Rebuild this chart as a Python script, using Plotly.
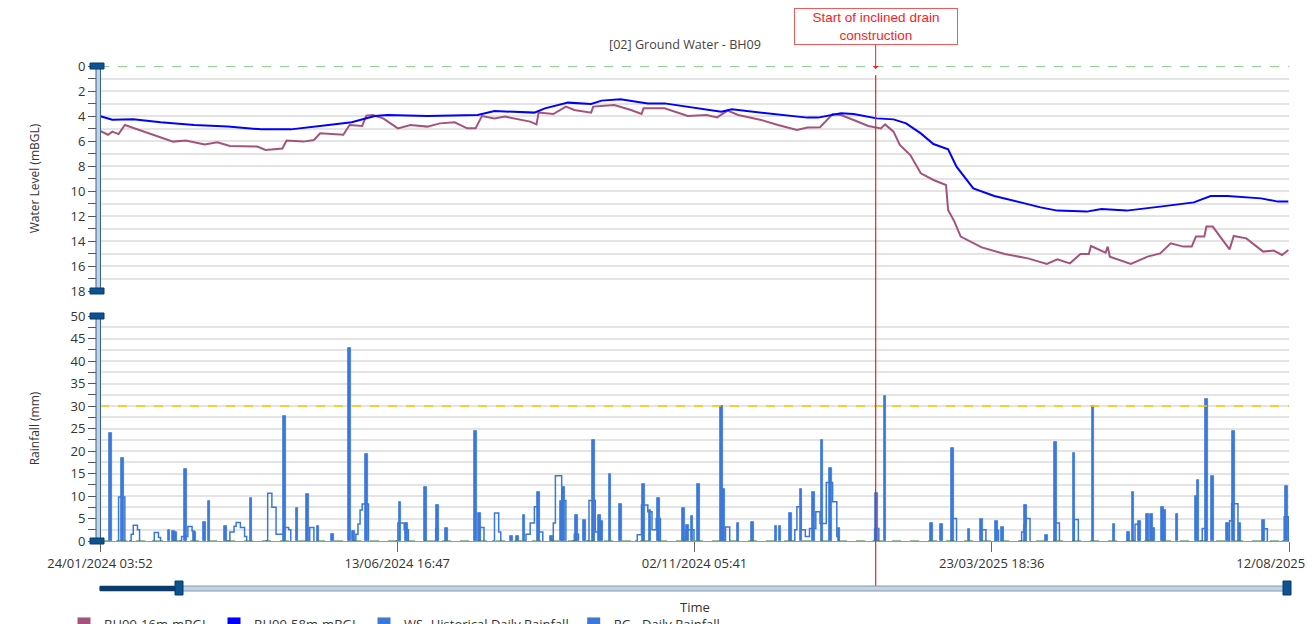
import plotly.graph_objects as go
from plotly.subplots import make_subplots

# ---------------- data ----------------
gw16_dates = ["2024-01-24", "2024-01-28", "2024-01-30", "2024-02-02", "2024-02-05", "2024-02-11", "2024-02-19",
              "2024-02-28", "2024-03-05", "2024-03-14", "2024-03-20", "2024-03-26", "2024-04-08", "2024-04-12",
              "2024-04-20", "2024-04-22", "2024-04-30", "2024-05-05", "2024-05-08", "2024-05-19", "2024-05-22",
              "2024-05-28", "2024-05-30", "2024-06-02", "2024-06-07", "2024-06-14", "2024-06-20", "2024-06-28",
              "2024-07-04", "2024-07-11", "2024-07-17", "2024-07-21", "2024-07-24", "2024-07-30", "2024-08-04",
              "2024-08-16", "2024-08-19", "2024-08-20", "2024-08-27", "2024-09-02", "2024-09-06", "2024-09-14",
              "2024-09-15", "2024-09-25", "2024-10-03", "2024-10-08", "2024-10-09", "2024-10-19", "2024-10-30",
              "2024-11-08", "2024-11-13", "2024-11-18", "2024-11-23", "2024-12-04", "2024-12-12", "2024-12-21",
              "2024-12-26", "2025-01-01", "2025-01-07", "2025-01-11", "2025-01-17", "2025-01-24", "2025-01-30",
              "2025-02-01", "2025-02-05", "2025-02-08", "2025-02-13", "2025-02-18", "2025-02-24", "2025-03-02",
              "2025-03-03", "2025-03-06", "2025-03-09", "2025-03-19", "2025-03-30", "2025-04-10", "2025-04-19",
              "2025-04-24", "2025-04-30", "2025-05-05", "2025-05-09", "2025-05-10", "2025-05-17", "2025-05-18",
              "2025-05-19", "2025-05-29", "2025-06-06", "2025-06-12", "2025-06-17", "2025-06-23", "2025-06-27",
              "2025-06-29", "2025-07-03", "2025-07-04", "2025-07-07", "2025-07-15", "2025-07-17", "2025-07-23",
              "2025-07-31", "2025-08-05", "2025-08-09", "2025-08-12"]
gw16_values = [5.17, 5.5, 5.25, 5.45, 4.72, 5.07, 5.5,
               6.05, 5.97, 6.27, 6.1, 6.4, 6.45, 6.72,
               6.6, 5.97, 6.05, 5.92, 5.39, 5.5, 4.72,
               4.8, 3.97, 3.92, 4.19, 4.99, 4.72, 4.85,
               4.59, 4.5, 4.99, 4.99, 4.0, 4.19, 4.05,
               4.45, 4.67, 3.73, 3.84, 3.25, 3.52, 3.73,
               3.25, 3.12, 3.52, 3.84, 3.39, 3.39, 4.0,
               3.92, 4.11, 3.57, 3.92, 4.32, 4.72, 5.12,
               4.93, 4.91, 3.84, 3.92, 4.32, 4.8, 4.99,
               4.67, 5.25, 6.32, 7.12, 8.59, 9.12, 9.52,
               11.52, 12.45, 13.65, 14.51, 15.04, 15.39, 15.84,
               15.47, 15.79, 15.04, 15.04, 14.4, 14.93, 14.45,
               15.25, 15.84, 15.25, 14.99, 14.19, 14.45, 14.45,
               13.65, 13.65, 12.85, 12.85, 14.67, 13.6, 13.79,
               14.85, 14.77, 15.12, 14.72]

gw58_dates = ["2024-01-24", "2024-01-30", "2024-02-09", "2024-02-22", "2024-03-09", "2024-03-25", "2024-04-10",
              "2024-04-24", "2024-05-12", "2024-05-23", "2024-06-03", "2024-06-09", "2024-06-28", "2024-07-14",
              "2024-07-22", "2024-07-30", "2024-08-18", "2024-08-23", "2024-09-03", "2024-09-14", "2024-09-19",
              "2024-09-28", "2024-10-11", "2024-10-19", "2024-11-02", "2024-11-15", "2024-11-20", "2024-12-04",
              "2024-12-26", "2024-12-31", "2025-01-11", "2025-01-17", "2025-01-28", "2025-02-05", "2025-02-11",
              "2025-02-18", "2025-02-24", "2025-03-03", "2025-03-07", "2025-03-15", "2025-03-25", "2025-04-07",
              "2025-04-16", "2025-04-24", "2025-05-08", "2025-05-15", "2025-05-27", "2025-06-12", "2025-06-28",
              "2025-07-06", "2025-07-14", "2025-07-30", "2025-08-07", "2025-08-12"]
gw58_values = [4.0, 4.3, 4.27, 4.5, 4.72, 4.85, 5.07,
               5.07, 4.72, 4.5, 4.0, 3.92, 4.0, 3.97,
               3.92, 3.6, 3.73, 3.39, 2.93, 3.04, 2.77,
               2.67, 2.99, 2.99, 3.31, 3.65, 3.47, 3.73,
               4.13, 4.13, 3.79, 3.84, 4.19, 4.27, 4.59,
               5.39, 6.24, 6.67, 8.05, 9.79, 10.4, 10.93,
               11.31, 11.57, 11.65, 11.44, 11.57, 11.25, 10.91,
               10.4, 10.4, 10.59, 10.85, 10.85]

# RG - Daily Rainfall (filled bars)
rg_dates = ["2024-01-29", "2024-02-04", "2024-02-26", "2024-02-28", "2024-02-29", "2024-03-05", "2024-03-09",
            "2024-03-14", "2024-03-16", "2024-03-24", "2024-04-05", "2024-04-21", "2024-04-27", "2024-05-02",
            "2024-05-07", "2024-05-14", "2024-05-22", "2024-05-24", "2024-05-30", "2024-06-15", "2024-06-18",
            "2024-06-27", "2024-07-03", "2024-07-07", "2024-07-21", "2024-07-23", "2024-08-07", "2024-08-10",
            "2024-08-13", "2024-08-20", "2024-08-26", "2024-08-31", "2024-09-01", "2024-09-07", "2024-09-11",
            "2024-09-15", "2024-09-18", "2024-09-19", "2024-09-23", "2024-09-28", "2024-10-09", "2024-10-12",
            "2024-10-16", "2024-10-28", "2024-10-30", "2024-11-01", "2024-11-04", "2024-11-15", "2024-11-16",
            "2024-11-23", "2024-11-30", "2024-12-11", "2024-12-13", "2024-12-18", "2024-12-23", "2024-12-29",
            "2025-01-02", "2025-01-06", "2025-01-10", "2025-01-28", "2025-02-01", "2025-02-23", "2025-02-28",
            "2025-03-05", "2025-03-13", "2025-03-19", "2025-03-26", "2025-03-29", "2025-04-09", "2025-04-19",
            "2025-04-23", "2025-05-02", "2025-05-11", "2025-05-21", "2025-05-28", "2025-05-30", "2025-06-02",
            "2025-06-06", "2025-06-08", "2025-06-09", "2025-06-13", "2025-06-14", "2025-06-20", "2025-06-29",
            "2025-06-30", "2025-07-04", "2025-07-07", "2025-07-14", "2025-07-17", "2025-07-20", "2025-07-31",
            "2025-08-11"]
rg_values = [24.0, 18.5, 2.4, 2.2, 2.0, 15.9, 2.0,
             4.3, 9.0, 3.3, 9.6, 27.8, 7.4, 10.4,
             3.3, 1.5, 43.0, 2.2, 19.3, 8.7, 4.1,
             11.9, 8.1, 2.8, 24.5, 6.3, 1.2, 1.2,
             5.8, 11.0, 1.2, 9.0, 11.9, 5.7, 4.6,
             22.4, 5.8, 4.5, 15.0, 8.2, 12.6, 6.9,
             9.6, 7.3, 3.6, 5.6, 12.7, 30.0, 11.5,
             4.1, 4.3, 3.3, 3.3, 6.3, 11.6, 11.0,
             22.4, 16.3, 2.8, 10.6, 32.3, 4.1, 3.7,
             20.7, 2.7, 4.9, 4.5, 3.2, 8.0, 1.4,
             21.9, 19.5, 30.0, 3.7, 2.0, 10.8, 4.4,
             6.1, 6.1, 2.8, 7.6, 6.9, 6.1, 10.0,
             13.6, 31.6, 14.4, 3.9, 24.5, 4.1, 4.7,
             12.3]

# WS - Historical Daily Rainfall (step outline, None separates wet spells)
ws_dates = ["2024-02-01", "2024-02-02", "2024-02-05", None,
            "2024-02-07", "2024-02-08", "2024-02-09", "2024-02-11", "2024-02-12", None,
            "2024-02-18", "2024-02-19", "2024-02-21", "2024-02-22", None,
            "2024-03-02", "2024-03-03", "2024-03-06", "2024-03-08", "2024-03-09", None,
            "2024-03-24", "2024-03-26", "2024-03-28", "2024-03-29", "2024-03-31", "2024-04-02", "2024-04-03", None,
            "2024-04-12", "2024-04-13", "2024-04-15", "2024-04-17", "2024-04-21", "2024-04-23", "2024-04-24", None,
            "2024-05-02", "2024-05-03", "2024-05-05", None,
            "2024-05-24", "2024-05-25", "2024-05-26", "2024-05-27", "2024-05-28", "2024-05-31", None,
            "2024-06-13", "2024-06-14", "2024-06-17", "2024-06-19", None,
            "2024-07-01", "2024-07-02", "2024-07-03", None,
            "2024-07-22", "2024-07-23", "2024-07-25", None,
            "2024-07-29", "2024-07-30", "2024-08-01", "2024-08-02", None,
            "2024-08-13", "2024-08-14", "2024-08-16", "2024-08-18", "2024-08-20", "2024-08-22", None,
            "2024-08-26", "2024-08-27", "2024-08-28", "2024-08-31", "2024-09-02", None,
            "2024-09-05", "2024-09-06", "2024-09-08", None,
            "2024-09-12", "2024-09-13", "2024-09-16", "2024-09-18", None,
            "2024-10-05", "2024-10-06", "2024-10-08", "2024-10-11", "2024-10-13", "2024-10-15", "2024-10-17", None,
            "2024-10-28", "2024-10-29", "2024-11-02", None,
            "2024-11-16", "2024-11-17", "2024-11-19", None,
            "2024-12-19", "2024-12-20", "2024-12-21", "2024-12-23", "2024-12-25", "2024-12-27", "2024-12-30",
            "2025-01-01", "2025-01-04", "2025-01-07", "2025-01-09", "2025-01-10", None,
            "2025-01-26", "2025-01-27", "2025-01-29", None,
            "2025-03-04", "2025-03-05", "2025-03-07", None,
            "2025-03-18", "2025-03-19", "2025-03-21", None,
            "2025-03-25", "2025-03-26", "2025-03-27", None,
            "2025-04-06", "2025-04-07", "2025-04-08", "2025-04-09", "2025-04-11", None,
            "2025-04-22", "2025-04-23", "2025-04-25", None,
            "2025-05-01", "2025-05-02", "2025-05-04", None,
            "2025-05-30", "2025-05-31", "2025-06-02", None,
            "2025-07-01", "2025-07-02", "2025-07-04", None,
            "2025-07-14", "2025-07-15", "2025-07-16", "2025-07-19", None,
            "2025-07-30", "2025-07-31", "2025-08-02", None,
            "2025-08-09", "2025-08-10", "2025-08-12"]
ws_values = [0, 9.8, 0, None,
             0, 1.5, 3.5, 2.5, 0, None,
             0, 1.9, 0.8, 0, None,
             0, 1.0, 3.2, 2.2, 0, None,
             0, 2.0, 3.3, 4.1, 3.0, 1.0, 0, None,
             0, 10.6, 7.5, 1.5, 3.0, 2.5, 0, None,
             0, 3.0, 0, None,
             0, 1.5, 3.8, 6.9, 8.2, 0, None,
             0, 4.0, 2.5, 0, None,
             0, 2.8, 0, None,
             0, 3.0, 0, None,
             0, 6.2, 2.0, 0, None,
             0, 1.5, 4.0, 7.6, 2.0, 0, None,
             0, 4.0, 14.5, 9.0, 0, None,
             0, 1.5, 0, None,
             0, 9.0, 2.0, 0, None,
             0, 1.4, 8.0, 6.5, 2.5, 5.0, 0, None,
             0, 2.5, 0, None,
             0, 3.1, 0, None,
             0, 2.5, 7.6, 2.5, 1.0, 2.8, 6.5,
             3.9, 13.0, 8.7, 1.0, 0, None,
             0, 2.8, 0, None,
             0, 5.0, 0, None,
             0, 2.5, 0, None,
             0, 2.4, 0, None,
             0, 2.0, 3.5, 5.0, 0, None,
             0, 4.0, 0, None,
             0, 4.8, 0, None,
             0, 3.7, 0, None,
             0, 2.8, 0, None,
             0, 4.5, 8.3, 0, None,
             0, 2.7, 0, None,
             0, 5.4, 0]

x_tick_vals = ["2024-01-24 03:52", "2024-06-13 16:47", "2024-11-02 05:41", "2025-03-23 18:36", "2025-08-12 07:30"]
x_tick_labels = ["24/01/2024 03:52", "13/06/2024 16:47", "02/11/2024 05:41", "23/03/2025 18:36", "12/08/2025 07:30"]
drain_start = "2025-01-27 12:00"
rain_threshold = 30
series_names = ["BH09-16m-mBGL", "BH09-58m-mBGL", "WS- Historical Daily Rainfall", "RG - Daily Rainfall"]

# ---------------- styling ----------------
C16 = "#a4547c"
C58 = "#0000ff"
CRAIN = "#3c78d8"
FONT = "Open Sans"
W, H = 1314, 624
OFF = 8  # page body margin around the figure
# plot area in page pixels
PL, PR, PT, PB = 100, 1289, 66, 541
PW, PH = PR - PL, PB - PT
ML, MR, MT, MB = PL - OFF, W + OFF - PR, PT - OFF, H + OFF - PB


def px_x(p):
    return (p - PL) / PW


def px_y(p):
    return (PB - p) / PH


fig = make_subplots(rows=2, cols=1, shared_xaxes=True)

fig.add_trace(go.Scatter(x=ws_dates, y=ws_values, mode="lines", connectgaps=False,
                         line=dict(shape="hv", color=CRAIN, width=1.5),
                         name=series_names[2], showlegend=False), row=2, col=1)
fig.add_trace(go.Bar(x=rg_dates, y=rg_values, width=1.3 * 86400000,
                     marker=dict(color=CRAIN, line=dict(color=CRAIN, width=0.8)),
                     name=series_names[3], showlegend=False), row=2, col=1)
fig.add_trace(go.Scatter(x=gw16_dates, y=gw16_values, mode="lines",
                         line=dict(color=C16, width=2), name=series_names[0], showlegend=False), row=1, col=1)
fig.add_trace(go.Scatter(x=gw58_dates, y=gw58_values, mode="lines",
                         line=dict(color=C58, width=2), name=series_names[1], showlegend=False), row=1, col=1)

# legend swatches (square keys as in the reference)
for nm, col in zip(series_names, [C16, C58, CRAIN, CRAIN]):
    fig.add_trace(go.Scatter(x=[None], y=[None], mode="markers", name=nm,
                             marker=dict(symbol="square", size=13, color=col)), row=1, col=1)

grid = "#e4e4e4"
tickc = "#555555"
fig.update_layout(
    width=W, height=H, margin=dict(l=ML, r=MR, t=MT, b=MB, autoexpand=False),
    plot_bgcolor="white", paper_bgcolor="white",
    font=dict(family=FONT, size=13, color="#333333"),
    bargap=0, barmode="overlay",
    title=dict(text="[02] Ground Water - BH09", x=px_x(685), xref="paper", xanchor="center",
               y=1 - (45 - OFF) / H, yref="container", yanchor="middle",
               font=dict(size=12.6, color="#444444", family=FONT)),
    legend=dict(orientation="h", x=px_x(64), xanchor="left", y=px_y(609), yanchor="top",
                font=dict(size=13, color="#333333"), bgcolor="rgba(0,0,0,0)", itemwidth=30),
    showlegend=True,
)

fig.update_xaxes(range=[x_tick_vals[0], x_tick_vals[-1]], showgrid=False, zeroline=False)
fig.update_layout(
    xaxis=dict(showticklabels=False, ticks="", showline=False),
    xaxis2=dict(tickvals=x_tick_vals, ticktext=x_tick_labels, ticks="outside", ticklen=10,
                tickcolor="#666666", showline=True, linecolor="#999999", linewidth=1,
                ticklabeloverflow="allow",
                tickfont=dict(size=13, color="#333333")),
    yaxis=dict(domain=[1 - 225 / PH, 1], range=[18, 0], tick0=0, dtick=2, ticks="outside", ticklen=11,
               tickcolor=tickc, showgrid=True, gridcolor=grid, gridwidth=1.5, zeroline=False,
               minor=dict(dtick=1, ticks="outside", ticklen=11, tickcolor=tickc, showgrid=True,
                          gridcolor=grid, gridwidth=1.5),
               title=dict(text="Water Level (mBGL)", font=dict(size=12, color="#333333"), standoff=28),
               tickfont=dict(size=13, color="#333333")),
    yaxis2=dict(domain=[0, 225 / PH], range=[0, 50], tick0=0, dtick=5, ticks="outside", ticklen=11,
                tickcolor=tickc, showgrid=True, gridcolor=grid, gridwidth=1.5, zeroline=False,
                minor=dict(dtick=2.5, ticks="outside", ticklen=11, tickcolor=tickc, showgrid=True,
                           gridcolor=grid, gridwidth=1.5),
                title=dict(text="Rainfall (mm)", font=dict(size=12, color="#333333"), standoff=28),
                tickfont=dict(size=13, color="#333333")),
)

shapes = []
# reference lines
shapes.append(dict(type="line", xref="paper", x0=0, x1=1, yref="y", y0=0, y1=0,
                   line=dict(color="#6cc96c", width=1.5, dash="dash")))
shapes.append(dict(type="line", xref="paper", x0=0, x1=1, yref="y2", y0=rain_threshold, y1=rain_threshold,
                   line=dict(color="#ffc400", width=1.5, dash="dash")))
shapes.append(dict(type="line", xref="paper", x0=0, x1=1, yref="y2", y0=0, y1=0,
                   line=dict(color="#2e7d32", width=1.2, dash="dash")))
# construction start marker
shapes.append(dict(type="line", xref="x2", x0=drain_start, x1=drain_start, yref="paper",
                   y0=px_y(588), y1=px_y(75), line=dict(color="#ff1a1a", width=1.2)))

# scrollbar-like y axis lines with handles
BAR_FILL, BAR_EDGE, CAP = "#c4d2e1", "#35638f", "#0c5391"
for top, bot in [(66, 291), (316, 541)]:
    shapes.append(dict(type="rect", xref="paper", yref="paper", x0=px_x(96), x1=px_x(100.5),
                       y0=px_y(bot), y1=px_y(top), fillcolor=BAR_FILL, line=dict(color=BAR_EDGE, width=1)))
    for c in (top, bot):
        shapes.append(dict(type="rect", xref="paper", yref="paper", x0=px_x(90), x1=px_x(104),
                           y0=px_y(c + 3), y1=px_y(c - 3), fillcolor=CAP, line=dict(color="#093a68", width=1)))
# horizontal navigator at the bottom
shapes.append(dict(type="rect", xref="paper", yref="paper", x0=px_x(100), x1=px_x(1289),
                   y0=px_y(591), y1=px_y(586), fillcolor=BAR_FILL, line=dict(color="#7f9ab5", width=1)))
shapes.append(dict(type="rect", xref="paper", yref="paper", x0=px_x(100), x1=px_x(178),
                   y0=px_y(590.5), y1=px_y(586.5), fillcolor="#0b3c6b", line=dict(color="#0b3c6b", width=1)))
for hx in (179, 1287):
    shapes.append(dict(type="rect", xref="paper", yref="paper", x0=px_x(hx - 4), x1=px_x(hx + 4),
                       y0=px_y(595), y1=px_y(581), fillcolor=CAP, line=dict(color="#093a68", width=1)))
fig.update_layout(shapes=shapes)

fig.add_annotation(x=drain_start, xref="x2", y=px_y(69), yref="paper",
                   text="Start of inclined drain<br>construction", showarrow=True,
                   ax=0, ay=-42, arrowhead=1, arrowsize=1, arrowwidth=1, arrowcolor="#ff1a1a",
                   font=dict(family="Liberation Sans", size=13.5, color="#ff1a1a"),
                   bordercolor="#f25a5a", borderwidth=1, borderpad=2, bgcolor="white",
                   width=158, height=31, align="center")
fig.add_annotation(x=px_x(695), xref="paper", y=px_y(607), yref="paper", text="Time", showarrow=False,
                   font=dict(size=13, color="#333333"), xanchor="center", yanchor="middle")

fig.write_html("out.html")
